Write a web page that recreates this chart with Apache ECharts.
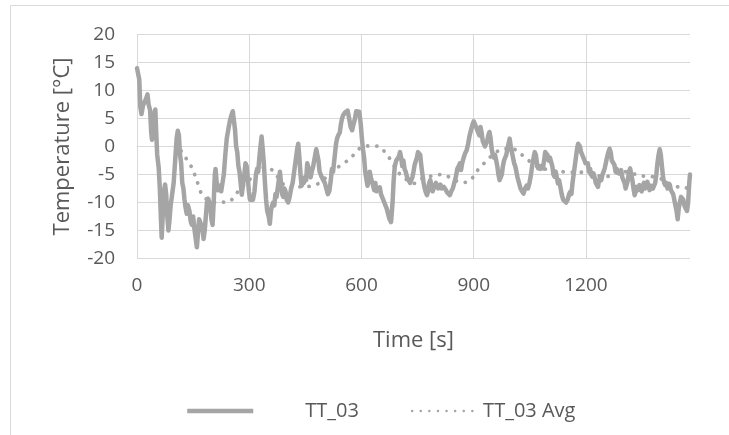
<!DOCTYPE html>
<html>
<head>
<meta charset="utf-8">
<script src="https://cdn.jsdelivr.net/npm/echarts@6/dist/echarts.min.js"></script>
<style>
html,body{margin:0;padding:0;background:#fff;}
#chart{width:729px;height:435px;}
</style>
</head>
<body>
<div id="chart"></div>
<script>
// ---- data ----
const xTicks = [0, 300, 600, 900, 1200];
const yTicks = [-20, -15, -10, -5, 0, 5, 10, 15, 20];
const seriesNames = ['TT_03', 'TT_03 Avg'];

const tt03Time = [0,3,6,9,12,16,20,24,28,31,35,38,40,43,46,49,51,54,58,61,64,66,69,72,75,78,81,84,87,90,94,98,102,106,109,112,115,118,121,124,127,130,133,136,140,144,147,150,154,157,160,163,166,169,172,175,178,181,184,187,190,193,196,199,202,205,208,210,213,216,219,222,225,228,232,236,240,244,248,252,256,259,262,265,268,271,274,277,280,283,286,290,293,296,299,302,306,310,314,318,321,324,327,330,333,336,339,342,345,348,352,355,358,361,364,367,370,373,376,379,382,385,388,391,394,397,400,404,408,412,416,420,424,428,431,434,437,440,443,446,449,452,455,458,461,464,467,471,475,479,482,485,488,491,494,498,502,506,510,514,518,521,524,528,532,535,538,542,545,548,551,555,559,563,567,571,575,578,582,586,590,594,598,601,604,607,610,613,616,619,622,625,628,631,634,637,640,643,646,649,652,655,658,661,664,667,671,675,679,683,686,689,693,696,700,703,706,709,712,715,718,722,726,730,733,736,739,742,745,748,751,754,757,760,763,766,769,772,775,778,781,784,787,790,793,796,799,802,805,808,811,814,817,820,823,826,829,832,836,840,844,848,852,856,860,863,866,869,873,877,881,885,889,893,897,900,903,906,909,912,915,918,921,924,927,930,933,936,939,942,945,948,951,954,957,960,963,966,969,972,975,978,981,984,987,990,993,996,999,1002,1005,1008,1011,1014,1017,1021,1025,1029,1033,1037,1041,1045,1049,1053,1056,1060,1063,1066,1069,1072,1075,1078,1081,1085,1088,1091,1094,1097,1100,1104,1107,1110,1113,1116,1119,1122,1125,1128,1131,1135,1139,1143,1147,1151,1155,1158,1161,1164,1167,1170,1173,1176,1179,1181,1184,1187,1190,1193,1196,1199,1202,1205,1208,1211,1214,1217,1220,1223,1226,1229,1232,1235,1238,1241,1244,1247,1250,1253,1256,1259,1263,1266,1269,1272,1276,1279,1282,1285,1288,1291,1294,1297,1300,1303,1306,1309,1312,1315,1318,1321,1324,1327,1330,1333,1336,1339,1343,1346,1349,1352,1355,1358,1361,1364,1367,1370,1373,1376,1379,1382,1385,1388,1391,1394,1397,1400,1403,1406,1409,1412,1415,1418,1421,1424,1427,1430,1433,1436,1439,1442,1445,1448,1451,1454,1457,1460,1463,1466,1470,1473,1476,1478];
const tt03Values = [14.0,14.2,12.0,7.0,5.8,7.3,7.0,8.5,9.3,7.5,6.5,2.5,1.2,3.5,5.8,6.6,3.0,-1.5,-3.8,-7.5,-13.0,-16.3,-12.0,-8.0,-6.8,-8.5,-12.5,-15.0,-13.0,-10.5,-8.5,-6.5,-2.5,1.5,2.8,2.0,-1.5,-3.0,-6.5,-7.5,-9.5,-11.0,-12.0,-10.5,-11.5,-13.5,-14.0,-12.5,-15.0,-16.5,-18.0,-15.5,-13.0,-13.5,-13.2,-14.8,-16.5,-15.0,-12.5,-10.0,-9.3,-9.5,-10.5,-13.0,-14.0,-10.0,-5.0,-4.0,-6.5,-7.8,-7.6,-7.0,-8.0,-7.9,-5.0,-1.5,1.5,3.0,4.5,5.5,6.3,6.5,3.0,0.0,-1.0,-3.5,-4.5,-6.5,-8.6,-7.0,-5.5,-3.0,-3.5,-5.5,-8.0,-9.5,-9.6,-9.5,-8.0,-5.0,-4.0,-4.5,-2.0,0.0,1.8,-0.5,-3.0,-6.5,-9.5,-11.5,-12.5,-13.8,-11.5,-10.5,-10.0,-10.5,-8.5,-9.0,-7.5,-6.0,-4.5,-6.5,-8.5,-9.0,-7.5,-8.0,-9.5,-10.0,-9.0,-7.5,-6.5,-4.5,-2.5,-0.5,0.5,-2.0,-5.0,-7.0,-6.0,-6.5,-5.5,-6.0,-3.0,-2.8,-4.5,-5.5,-4.5,-3.5,-2.0,-0.5,-0.2,-2.5,-4.5,-5.0,-5.5,-6.0,-6.5,-7.5,-8.5,-8.0,-6.0,-4.0,-4.5,-2.0,0.5,1.5,2.0,2.5,4.0,5.0,5.6,6.0,6.2,6.4,5.0,3.5,2.9,3.8,4.8,6.3,6.0,6.2,4.0,1.5,-0.5,-2.0,-4.5,-5.8,-7.0,-6.0,-4.5,-5.5,-5.2,-7.0,-7.8,-6.5,-8.0,-7.5,-7.2,-7.3,-8.5,-9.0,-9.5,-10.0,-10.5,-11.0,-12.0,-13.0,-13.5,-10.0,-6.0,-3.5,-2.5,-2.8,-1.8,-1.0,-2.0,-3.5,-2.5,-4.0,-4.5,-5.5,-6.0,-6.5,-6.3,-5.5,-4.5,-3.3,-3.0,-2.0,-1.0,-0.7,-1.5,-3.5,-5.0,-6.5,-7.5,-8.2,-8.7,-8.0,-6.5,-6.0,-7.0,-8.0,-8.2,-7.0,-6.5,-6.6,-7.5,-7.2,-6.8,-7.5,-7.8,-7.2,-7.0,-7.8,-8.2,-8.5,-8.7,-8.0,-7.5,-6.5,-5.5,-4.0,-3.5,-3.0,-4.2,-3.0,-2.0,-1.2,-0.7,0.5,2.0,3.0,4.0,4.5,4.6,3.5,3.0,3.2,2.0,3.5,2.5,1.0,0.8,0.0,0.5,1.0,2.0,2.6,1.5,-0.5,-1.5,-2.0,-1.5,-1.8,-3.5,-5.0,-6.0,-6.3,-5.0,-3.5,-2.5,-2.2,-1.5,-0.5,0.5,1.4,0.0,-1.0,-2.0,-3.0,-3.5,-4.5,-5.5,-6.5,-7.5,-8.0,-8.4,-7.5,-7.0,-7.5,-6.5,-5.0,-3.5,-2.0,-1.0,-1.5,-3.0,-3.9,-3.5,-4.0,-3.5,-3.9,-2.5,-1.0,-0.7,-1.5,-2.5,-2.0,-2.8,-3.5,-5.0,-5.4,-4.5,-5.5,-6.6,-6.0,-7.0,-8.5,-9.5,-9.8,-10.0,-9.5,-8.5,-8.1,-8.5,-6.5,-5.0,-3.5,-2.0,-0.5,0.5,0.8,0.0,-1.0,-1.0,-2.0,-2.5,-3.0,-3.3,-3.0,-4.5,-4.0,-5.0,-5.4,-4.8,-5.5,-6.5,-6.8,-7.2,-6.0,-5.5,-6.0,-5.0,-4.5,-3.9,-3.0,-2.0,-1.2,-0.4,-1.0,-2.5,-2.8,-3.3,-4.5,-4.0,-3.8,-4.8,-5.0,-4.2,-5.5,-6.0,-6.5,-7.5,-7.2,-6.0,-4.5,-3.9,-5.0,-6.0,-7.5,-8.7,-8.0,-7.2,-7.8,-6.9,-7.5,-8.0,-7.0,-6.5,-7.5,-6.8,-6.3,-7.0,-7.8,-7.0,-6.8,-7.5,-7.2,-6.5,-5.0,-3.0,-1.5,-0.5,-1.5,-3.5,-5.5,-6.5,-6.9,-6.5,-7.5,-7.2,-6.8,-7.8,-8.1,-8.5,-9.5,-10.5,-11.5,-13.0,-11.0,-10.0,-9.0,-8.7,-9.5,-10.5,-11.0,-11.5,-10.0,-6.5,-5.0];

const avgTime = [118,124,135,146,159,173,190,210,235,250,262,277,295,315,333,350,365,380,395,410,426,445,470,488,505,520,533,550,569,587,600,622,647,660,672,685,702,720,742,765,796,814,845,863,880,898,911,929,947,965,987,1009,1027,1045,1070,1095,1121,1165,1187,1214,1232,1254,1276,1303,1334,1356,1379,1405,1428,1450,1468,1478];
const avgValues = [-0.8,-1.2,-2.6,-3.7,-5.9,-8.5,-9.6,-10.0,-9.9,-9.7,-8.7,-7.5,-6.3,-5.0,-3.8,-3.7,-4.5,-5.8,-7.0,-7.4,-7.2,-7.2,-7.0,-6.5,-5.5,-4.5,-3.9,-3.1,-2.2,-0.9,-0.1,0.1,0.0,-0.8,-1.8,-3.2,-4.9,-5.9,-6.6,-5.6,-5.2,-5.0,-5.8,-6.4,-6.4,-5.5,-4.2,-2.9,-1.7,-0.8,-0.4,-0.5,-1.4,-2.4,-3.6,-4.1,-4.4,-4.6,-4.6,-5.0,-5.2,-5.4,-4.8,-4.5,-5.0,-5.3,-5.4,-5.9,-6.8,-7.3,-7.4,-7.5];

const xMax = 1478;

// ---- chart ----
const GRAY = '#a5a5a5';
const TEXT = '#595959';
const GRID = '#d9d9d9';
const FONT = "'Open Sans', 'Noto Sans', sans-serif";
const HIDDEN_SYMBOL = {color: 'rgba(0,0,0,0)', borderColor: 'rgba(0,0,0,0)', borderWidth: 0, opacity: 0};

const mainData = tt03Time.map((t, i) => [t, tt03Values[i]]);
const avgData = avgTime.map((t, i) => [t, avgValues[i]]);

const chart = echarts.init(document.getElementById('chart'), null, {renderer: 'canvas'});
chart.setOption({
  animation: false,
  backgroundColor: '#ffffff',
  graphic: [{
    type: 'rect', silent: true, z: -10,
    shape: {x: 10.5, y: 5.5, width: 800, height: 500},
    style: {fill: 'none', stroke: GRID, lineWidth: 1}
  }],
  grid: {left: 137, right: 39, top: 34.5, bottom: 176.5, containLabel: false},
  legend: {
    left: 180, top: 396,
    itemWidth: 66, itemHeight: 14, itemGap: 52,
    textStyle: {color: TEXT, fontSize: 20, fontFamily: FONT},
    data: [
      {name: seriesNames[0], itemStyle: HIDDEN_SYMBOL,
       lineStyle: {width: 4.5, color: GRAY, cap: 'butt'}, textStyle: {padding: [0, 0, 0, 47]}},
      {name: seriesNames[1], itemStyle: HIDDEN_SYMBOL,
       lineStyle: {width: 2.4, color: GRAY, type: [0.1, 8.5], cap: 'round'}}
    ]
  },
  xAxis: {
    type: 'value', min: 0, max: xMax, interval: 300,
    name: 'Time [s]', nameLocation: 'middle', nameGap: 71,
    nameTextStyle: {color: TEXT, fontSize: 22, fontFamily: FONT},
    axisLine: {show: true, lineStyle: {color: GRID, width: 1}},
    axisTick: {show: false},
    axisLabel: {color: TEXT, fontSize: 19, fontFamily: FONT, margin: 18, showMaxLabel: false,
      formatter: v => (xTicks.indexOf(v) >= 0 ? String(v) : '')},
    splitLine: {show: true, showMaxLine: false, lineStyle: {color: GRID, width: 1}}
  },
  yAxis: {
    type: 'value', min: yTicks[0], max: yTicks[yTicks.length - 1], interval: 5,
    name: 'Temperature [°C]', nameLocation: 'middle', nameGap: 63,
    nameTextStyle: {color: TEXT, fontSize: 22, fontFamily: FONT},
    axisLine: {show: false},
    axisTick: {show: false},
    axisLabel: {color: TEXT, fontSize: 19, fontFamily: FONT, margin: 22},
    splitLine: {show: true, lineStyle: {color: GRID, width: 1}}
  },
  series: [
    {
      name: seriesNames[0], type: 'line', data: mainData,
      showSymbol: false, symbol: 'none',
      lineStyle: {color: GRAY, width: 4.5, join: 'round', cap: 'round'},
      itemStyle: {color: GRAY},
      z: 3
    },
    {
      name: seriesNames[1], type: 'line', data: avgData,
      showSymbol: false, symbol: 'none', smooth: 0.3,
      lineStyle: {color: GRAY, width: 3.8, type: [0.1, 9], cap: 'round'},
      itemStyle: {color: GRAY},
      z: 2
    }
  ]
});
</script>
</body>
</html>
